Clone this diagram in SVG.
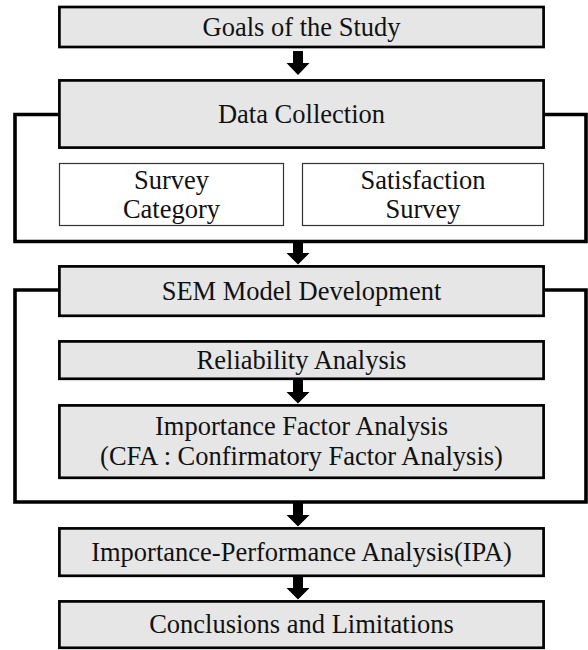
<svg xmlns="http://www.w3.org/2000/svg" width="588" height="650" viewBox="0 0 588 650">
  <defs>
    <style>
      .box { fill: #e6e6e6; stroke: #000; stroke-width: 2.7; }
      .sub { fill: #fff; stroke: #333; stroke-width: 1.2; }
      .bracket { fill: none; stroke: #000; stroke-width: 3.6; stroke-linejoin: miter; }
      .arrow { fill: #000; stroke: none; }
      .t { font-family: 'Liberation Serif', 'DejaVu Serif', 'Times New Roman', serif; font-size: 26.5px; fill: #111; text-anchor: middle; }
    </style>
  </defs>
  <rect width="588" height="650" fill="#fff"/>
  <g id="connectors">
    <path class="bracket" d="M58,114.5 H15 V241.5 H586 V114.5 H545"/>
    <path class="bracket" d="M58,290 H15 V502 H586 V290 H545"/>
    <polygon class="arrow" points="293,51 303,51 303,63 309.5,63 298,75 286.5,63 293,63"/>
    <polygon class="arrow" points="293,243 303,243 303,253 309.5,253 298,264.5 286.5,253 293,253"/>
    <polygon class="arrow" points="293,380 303,380 303,392 309.5,392 298,403.5 286.5,392 293,392"/>
    <polygon class="arrow" points="293,503 303,503 303,515 309.5,515 298,526.5 286.5,515 293,515"/>
    <polygon class="arrow" points="293,577 303,577 303,588 309.5,588 298,599.5 286.5,588 293,588"/>
  </g>
  <g id="goals">
    <rect class="box" x="59.4" y="7" width="484.2" height="40"/>
    <text class="t" x="301.5" y="36">Goals of the Study</text>
  </g>
  <g id="data-collection">
    <rect class="box" x="59.4" y="80.4" width="484.2" height="67.2"/>
    <text class="t" x="301.5" y="123">Data Collection</text>
  </g>
  <g id="survey-category">
    <rect class="sub" x="59.5" y="163.5" width="224" height="62"/>
    <text class="t" x="171.5" y="188.5">Survey</text>
    <text class="t" x="171.5" y="217.5">Category</text>
  </g>
  <g id="satisfaction-survey">
    <rect class="sub" x="302.5" y="163.5" width="241" height="62"/>
    <text class="t" x="423" y="188.5">Satisfaction</text>
    <text class="t" x="423" y="217.5">Survey</text>
  </g>
  <g id="sem">
    <rect class="box" x="59.4" y="266.4" width="484.2" height="49.4"/>
    <text class="t" x="301.5" y="300">SEM Model Development</text>
  </g>
  <g id="reliability">
    <rect class="box" x="59.4" y="341.4" width="484.2" height="37.4"/>
    <text class="t" x="301.5" y="368.5">Reliability Analysis</text>
  </g>
  <g id="importance">
    <rect class="box" x="59.4" y="405.4" width="484.2" height="72.4"/>
    <text class="t" x="301.5" y="435">Importance Factor Analysis</text>
    <text class="t" x="301.5" y="465">(CFA : Confirmatory Factor Analysis)</text>
  </g>
  <g id="ipa">
    <rect class="box" x="59.4" y="528.4" width="484.2" height="47.4"/>
    <text class="t" x="301.5" y="560.5">Importance-Performance Analysis(IPA)</text>
  </g>
  <g id="conclusions">
    <rect class="box" x="59.4" y="601.4" width="484.2" height="46.4"/>
    <text class="t" x="301.5" y="633">Conclusions and Limitations</text>
  </g>
</svg>
